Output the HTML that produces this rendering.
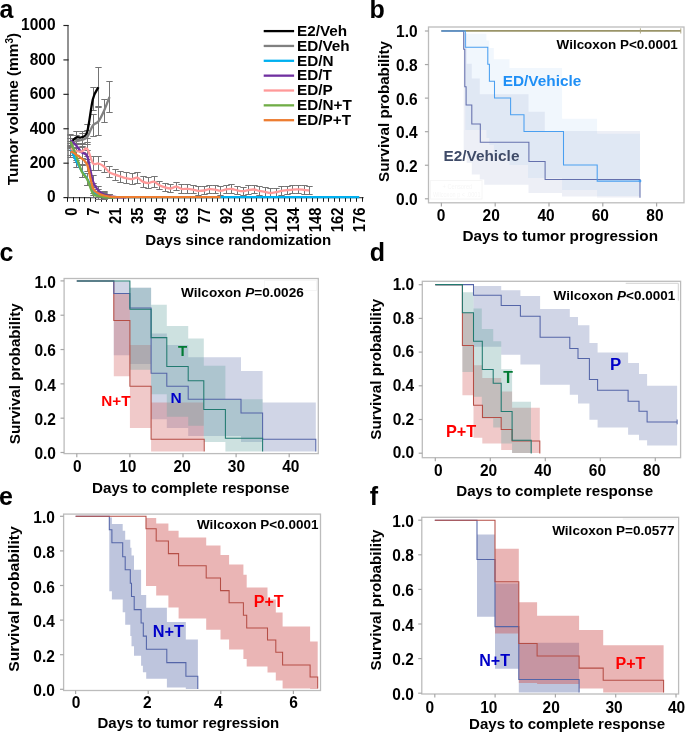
<!DOCTYPE html>
<html><head><meta charset="utf-8"><style>html,body{margin:0;padding:0;background:#fff;overflow:hidden}svg{display:block;will-change:transform}</style></head>
<body><svg width="685" height="734" viewBox="0 0 685 734">
<rect width="685" height="734" fill="#fff"/>
<text x="-0.45" y="17.60" font-family="'Liberation Sans', sans-serif" font-size="25" font-weight="bold" fill="#000" text-anchor="start">a</text>
<line x1="68.00" y1="25.00" x2="68.00" y2="197.60" stroke="#505050" stroke-width="1.25"/>
<line x1="63.40" y1="197.60" x2="68.60" y2="197.60" stroke="#222" stroke-width="1.15"/>
<text x="55.60" y="202.40" font-family="'Liberation Sans', sans-serif" font-size="15.5" font-weight="bold" fill="#000" text-anchor="end" transform="translate(0 202.40) scale(1 1.08) translate(0 -202.40)">0</text>
<line x1="63.40" y1="163.18" x2="68.60" y2="163.18" stroke="#222" stroke-width="1.15"/>
<text x="55.60" y="167.98" font-family="'Liberation Sans', sans-serif" font-size="15.5" font-weight="bold" fill="#000" text-anchor="end" transform="translate(0 167.98) scale(1 1.08) translate(0 -167.98)">200</text>
<line x1="63.40" y1="128.76" x2="68.60" y2="128.76" stroke="#222" stroke-width="1.15"/>
<text x="55.60" y="133.56" font-family="'Liberation Sans', sans-serif" font-size="15.5" font-weight="bold" fill="#000" text-anchor="end" transform="translate(0 133.56) scale(1 1.08) translate(0 -133.56)">400</text>
<line x1="63.40" y1="94.34" x2="68.60" y2="94.34" stroke="#222" stroke-width="1.15"/>
<text x="55.60" y="99.14" font-family="'Liberation Sans', sans-serif" font-size="15.5" font-weight="bold" fill="#000" text-anchor="end" transform="translate(0 99.14) scale(1 1.08) translate(0 -99.14)">600</text>
<line x1="63.40" y1="59.92" x2="68.60" y2="59.92" stroke="#222" stroke-width="1.15"/>
<text x="55.60" y="64.72" font-family="'Liberation Sans', sans-serif" font-size="15.5" font-weight="bold" fill="#000" text-anchor="end" transform="translate(0 64.72) scale(1 1.08) translate(0 -64.72)">800</text>
<line x1="63.40" y1="25.50" x2="68.60" y2="25.50" stroke="#222" stroke-width="1.15"/>
<text x="55.60" y="30.30" font-family="'Liberation Sans', sans-serif" font-size="15.5" font-weight="bold" fill="#000" text-anchor="end" transform="translate(0 30.30) scale(1 1.08) translate(0 -30.30)">1000</text>
<line x1="67.30" y1="197.60" x2="363.60" y2="197.60" stroke="#505050" stroke-width="1.25"/>
<line x1="67.50" y1="197.00" x2="67.50" y2="201.80" stroke="#1a1a1a" stroke-width="1.0"/>
<line x1="73.50" y1="197.00" x2="73.50" y2="201.80" stroke="#1a1a1a" stroke-width="1.0"/>
<line x1="79.50" y1="197.00" x2="79.50" y2="201.80" stroke="#1a1a1a" stroke-width="1.0"/>
<line x1="84.50" y1="197.00" x2="84.50" y2="201.80" stroke="#1a1a1a" stroke-width="1.0"/>
<line x1="90.50" y1="197.00" x2="90.50" y2="201.80" stroke="#1a1a1a" stroke-width="1.0"/>
<line x1="95.50" y1="197.00" x2="95.50" y2="201.80" stroke="#1a1a1a" stroke-width="1.0"/>
<line x1="101.50" y1="197.00" x2="101.50" y2="201.80" stroke="#1a1a1a" stroke-width="1.0"/>
<line x1="106.50" y1="197.00" x2="106.50" y2="201.80" stroke="#1a1a1a" stroke-width="1.0"/>
<line x1="112.50" y1="197.00" x2="112.50" y2="201.80" stroke="#1a1a1a" stroke-width="1.0"/>
<line x1="117.50" y1="197.00" x2="117.50" y2="201.80" stroke="#1a1a1a" stroke-width="1.0"/>
<line x1="123.50" y1="197.00" x2="123.50" y2="201.80" stroke="#1a1a1a" stroke-width="1.0"/>
<line x1="128.50" y1="197.00" x2="128.50" y2="201.80" stroke="#1a1a1a" stroke-width="1.0"/>
<line x1="134.50" y1="197.00" x2="134.50" y2="201.80" stroke="#1a1a1a" stroke-width="1.0"/>
<line x1="140.50" y1="197.00" x2="140.50" y2="201.80" stroke="#1a1a1a" stroke-width="1.0"/>
<line x1="145.50" y1="197.00" x2="145.50" y2="201.80" stroke="#1a1a1a" stroke-width="1.0"/>
<line x1="151.50" y1="197.00" x2="151.50" y2="201.80" stroke="#1a1a1a" stroke-width="1.0"/>
<line x1="156.50" y1="197.00" x2="156.50" y2="201.80" stroke="#1a1a1a" stroke-width="1.0"/>
<line x1="162.50" y1="197.00" x2="162.50" y2="201.80" stroke="#1a1a1a" stroke-width="1.0"/>
<line x1="167.50" y1="197.00" x2="167.50" y2="201.80" stroke="#1a1a1a" stroke-width="1.0"/>
<line x1="173.50" y1="197.00" x2="173.50" y2="201.80" stroke="#1a1a1a" stroke-width="1.0"/>
<line x1="178.50" y1="197.00" x2="178.50" y2="201.80" stroke="#1a1a1a" stroke-width="1.0"/>
<line x1="184.50" y1="197.00" x2="184.50" y2="201.80" stroke="#1a1a1a" stroke-width="1.0"/>
<line x1="190.50" y1="197.00" x2="190.50" y2="201.80" stroke="#1a1a1a" stroke-width="1.0"/>
<line x1="195.50" y1="197.00" x2="195.50" y2="201.80" stroke="#1a1a1a" stroke-width="1.0"/>
<line x1="201.50" y1="197.00" x2="201.50" y2="201.80" stroke="#1a1a1a" stroke-width="1.0"/>
<line x1="206.50" y1="197.00" x2="206.50" y2="201.80" stroke="#1a1a1a" stroke-width="1.0"/>
<line x1="212.50" y1="197.00" x2="212.50" y2="201.80" stroke="#1a1a1a" stroke-width="1.0"/>
<line x1="217.50" y1="197.00" x2="217.50" y2="201.80" stroke="#1a1a1a" stroke-width="1.0"/>
<line x1="223.50" y1="197.00" x2="223.50" y2="201.80" stroke="#1a1a1a" stroke-width="1.0"/>
<line x1="228.50" y1="197.00" x2="228.50" y2="201.80" stroke="#1a1a1a" stroke-width="1.0"/>
<line x1="234.50" y1="197.00" x2="234.50" y2="201.80" stroke="#1a1a1a" stroke-width="1.0"/>
<line x1="239.50" y1="197.00" x2="239.50" y2="201.80" stroke="#1a1a1a" stroke-width="1.0"/>
<line x1="245.50" y1="197.00" x2="245.50" y2="201.80" stroke="#1a1a1a" stroke-width="1.0"/>
<line x1="251.50" y1="197.00" x2="251.50" y2="201.80" stroke="#1a1a1a" stroke-width="1.0"/>
<line x1="256.50" y1="197.00" x2="256.50" y2="201.80" stroke="#1a1a1a" stroke-width="1.0"/>
<line x1="262.50" y1="197.00" x2="262.50" y2="201.80" stroke="#1a1a1a" stroke-width="1.0"/>
<line x1="267.50" y1="197.00" x2="267.50" y2="201.80" stroke="#1a1a1a" stroke-width="1.0"/>
<line x1="273.50" y1="197.00" x2="273.50" y2="201.80" stroke="#1a1a1a" stroke-width="1.0"/>
<line x1="278.50" y1="197.00" x2="278.50" y2="201.80" stroke="#1a1a1a" stroke-width="1.0"/>
<line x1="284.50" y1="197.00" x2="284.50" y2="201.80" stroke="#1a1a1a" stroke-width="1.0"/>
<line x1="289.50" y1="197.00" x2="289.50" y2="201.80" stroke="#1a1a1a" stroke-width="1.0"/>
<line x1="295.50" y1="197.00" x2="295.50" y2="201.80" stroke="#1a1a1a" stroke-width="1.0"/>
<line x1="301.50" y1="197.00" x2="301.50" y2="201.80" stroke="#1a1a1a" stroke-width="1.0"/>
<line x1="306.50" y1="197.00" x2="306.50" y2="201.80" stroke="#1a1a1a" stroke-width="1.0"/>
<line x1="312.50" y1="197.00" x2="312.50" y2="201.80" stroke="#1a1a1a" stroke-width="1.0"/>
<line x1="317.50" y1="197.00" x2="317.50" y2="201.80" stroke="#1a1a1a" stroke-width="1.0"/>
<line x1="323.50" y1="197.00" x2="323.50" y2="201.80" stroke="#1a1a1a" stroke-width="1.0"/>
<line x1="328.50" y1="197.00" x2="328.50" y2="201.80" stroke="#1a1a1a" stroke-width="1.0"/>
<line x1="334.50" y1="197.00" x2="334.50" y2="201.80" stroke="#1a1a1a" stroke-width="1.0"/>
<line x1="339.50" y1="197.00" x2="339.50" y2="201.80" stroke="#1a1a1a" stroke-width="1.0"/>
<line x1="345.50" y1="197.00" x2="345.50" y2="201.80" stroke="#1a1a1a" stroke-width="1.0"/>
<line x1="350.50" y1="197.00" x2="350.50" y2="201.80" stroke="#1a1a1a" stroke-width="1.0"/>
<line x1="356.50" y1="197.00" x2="356.50" y2="201.80" stroke="#1a1a1a" stroke-width="1.0"/>
<line x1="362.50" y1="197.00" x2="362.50" y2="201.80" stroke="#1a1a1a" stroke-width="1.0"/>
<text x="76.75" y="207.5" font-family="'Liberation Sans', sans-serif" font-size="14.8" font-weight="bold" fill="#000" text-anchor="end" transform="rotate(-90 76.75 207.5) translate(76.75 207.5) scale(1 1.1) translate(-76.75 -207.5)">0</text>
<text x="98.95" y="207.5" font-family="'Liberation Sans', sans-serif" font-size="14.8" font-weight="bold" fill="#000" text-anchor="end" transform="rotate(-90 98.95 207.5) translate(98.95 207.5) scale(1 1.1) translate(-98.95 -207.5)">7</text>
<text x="121.15" y="207.5" font-family="'Liberation Sans', sans-serif" font-size="14.8" font-weight="bold" fill="#000" text-anchor="end" transform="rotate(-90 121.15 207.5) translate(121.15 207.5) scale(1 1.1) translate(-121.15 -207.5)">21</text>
<text x="143.35" y="207.5" font-family="'Liberation Sans', sans-serif" font-size="14.8" font-weight="bold" fill="#000" text-anchor="end" transform="rotate(-90 143.35 207.5) translate(143.35 207.5) scale(1 1.1) translate(-143.35 -207.5)">35</text>
<text x="165.55" y="207.5" font-family="'Liberation Sans', sans-serif" font-size="14.8" font-weight="bold" fill="#000" text-anchor="end" transform="rotate(-90 165.55 207.5) translate(165.55 207.5) scale(1 1.1) translate(-165.55 -207.5)">49</text>
<text x="187.75" y="207.5" font-family="'Liberation Sans', sans-serif" font-size="14.8" font-weight="bold" fill="#000" text-anchor="end" transform="rotate(-90 187.75 207.5) translate(187.75 207.5) scale(1 1.1) translate(-187.75 -207.5)">63</text>
<text x="209.95" y="207.5" font-family="'Liberation Sans', sans-serif" font-size="14.8" font-weight="bold" fill="#000" text-anchor="end" transform="rotate(-90 209.95 207.5) translate(209.95 207.5) scale(1 1.1) translate(-209.95 -207.5)">77</text>
<text x="232.15" y="207.5" font-family="'Liberation Sans', sans-serif" font-size="14.8" font-weight="bold" fill="#000" text-anchor="end" transform="rotate(-90 232.15 207.5) translate(232.15 207.5) scale(1 1.1) translate(-232.15 -207.5)">92</text>
<text x="254.35" y="207.5" font-family="'Liberation Sans', sans-serif" font-size="14.8" font-weight="bold" fill="#000" text-anchor="end" transform="rotate(-90 254.35 207.5) translate(254.35 207.5) scale(1 1.1) translate(-254.35 -207.5)">106</text>
<text x="276.55" y="207.5" font-family="'Liberation Sans', sans-serif" font-size="14.8" font-weight="bold" fill="#000" text-anchor="end" transform="rotate(-90 276.55 207.5) translate(276.55 207.5) scale(1 1.1) translate(-276.55 -207.5)">120</text>
<text x="298.75" y="207.5" font-family="'Liberation Sans', sans-serif" font-size="14.8" font-weight="bold" fill="#000" text-anchor="end" transform="rotate(-90 298.75 207.5) translate(298.75 207.5) scale(1 1.1) translate(-298.75 -207.5)">134</text>
<text x="320.95" y="207.5" font-family="'Liberation Sans', sans-serif" font-size="14.8" font-weight="bold" fill="#000" text-anchor="end" transform="rotate(-90 320.95 207.5) translate(320.95 207.5) scale(1 1.1) translate(-320.95 -207.5)">148</text>
<text x="343.15" y="207.5" font-family="'Liberation Sans', sans-serif" font-size="14.8" font-weight="bold" fill="#000" text-anchor="end" transform="rotate(-90 343.15 207.5) translate(343.15 207.5) scale(1 1.1) translate(-343.15 -207.5)">162</text>
<text x="365.35" y="207.5" font-family="'Liberation Sans', sans-serif" font-size="14.8" font-weight="bold" fill="#000" text-anchor="end" transform="rotate(-90 365.35 207.5) translate(365.35 207.5) scale(1 1.1) translate(-365.35 -207.5)">176</text>
<text x="145.30" y="245.20" font-family="'Liberation Sans', sans-serif" font-size="15.2" font-weight="bold" fill="#000" text-anchor="start" textLength="186.00" lengthAdjust="spacingAndGlyphs">Days since randomization</text>
<text x="18.3" y="109" font-family="'Liberation Sans', sans-serif" font-size="15.4" font-weight="bold" text-anchor="middle" transform="rotate(-90 18.3 109)">Tumor volume (mm<tspan dy="-5" font-size="10">3</tspan><tspan dy="5">)</tspan></text>
<line x1="70.50" y1="138.50" x2="70.50" y2="148.50" stroke="#747474" stroke-width="1.0"/>
<line x1="67.30" y1="138.50" x2="73.70" y2="138.50" stroke="#747474" stroke-width="1.0"/>
<line x1="67.30" y1="148.50" x2="73.70" y2="148.50" stroke="#747474" stroke-width="1.0"/>
<line x1="76.50" y1="131.50" x2="76.50" y2="143.50" stroke="#747474" stroke-width="1.0"/>
<line x1="73.30" y1="131.50" x2="79.70" y2="131.50" stroke="#747474" stroke-width="1.0"/>
<line x1="73.30" y1="143.50" x2="79.70" y2="143.50" stroke="#747474" stroke-width="1.0"/>
<line x1="82.50" y1="131.50" x2="82.50" y2="143.50" stroke="#747474" stroke-width="1.0"/>
<line x1="79.30" y1="131.50" x2="85.70" y2="131.50" stroke="#747474" stroke-width="1.0"/>
<line x1="79.30" y1="143.50" x2="85.70" y2="143.50" stroke="#747474" stroke-width="1.0"/>
<line x1="87.50" y1="124.50" x2="87.50" y2="138.50" stroke="#747474" stroke-width="1.0"/>
<line x1="84.30" y1="124.50" x2="90.70" y2="124.50" stroke="#747474" stroke-width="1.0"/>
<line x1="84.30" y1="138.50" x2="90.70" y2="138.50" stroke="#747474" stroke-width="1.0"/>
<line x1="93.50" y1="87.50" x2="93.50" y2="110.50" stroke="#747474" stroke-width="1.0"/>
<line x1="90.30" y1="87.50" x2="96.70" y2="87.50" stroke="#747474" stroke-width="1.0"/>
<line x1="90.30" y1="110.50" x2="96.70" y2="110.50" stroke="#747474" stroke-width="1.0"/>
<line x1="98.50" y1="67.50" x2="98.50" y2="106.50" stroke="#747474" stroke-width="1.0"/>
<line x1="95.30" y1="67.50" x2="101.70" y2="67.50" stroke="#747474" stroke-width="1.0"/>
<line x1="95.30" y1="106.50" x2="101.70" y2="106.50" stroke="#747474" stroke-width="1.0"/>
<line x1="70.50" y1="138.50" x2="70.50" y2="150.50" stroke="#747474" stroke-width="1.0"/>
<line x1="67.30" y1="138.50" x2="73.70" y2="138.50" stroke="#747474" stroke-width="1.0"/>
<line x1="67.30" y1="150.50" x2="73.70" y2="150.50" stroke="#747474" stroke-width="1.0"/>
<line x1="76.50" y1="135.50" x2="76.50" y2="147.50" stroke="#747474" stroke-width="1.0"/>
<line x1="73.30" y1="135.50" x2="79.70" y2="135.50" stroke="#747474" stroke-width="1.0"/>
<line x1="73.30" y1="147.50" x2="79.70" y2="147.50" stroke="#747474" stroke-width="1.0"/>
<line x1="82.50" y1="133.50" x2="82.50" y2="147.50" stroke="#747474" stroke-width="1.0"/>
<line x1="79.30" y1="133.50" x2="85.70" y2="133.50" stroke="#747474" stroke-width="1.0"/>
<line x1="79.30" y1="147.50" x2="85.70" y2="147.50" stroke="#747474" stroke-width="1.0"/>
<line x1="87.50" y1="130.50" x2="87.50" y2="144.50" stroke="#747474" stroke-width="1.0"/>
<line x1="84.30" y1="130.50" x2="90.70" y2="130.50" stroke="#747474" stroke-width="1.0"/>
<line x1="84.30" y1="144.50" x2="90.70" y2="144.50" stroke="#747474" stroke-width="1.0"/>
<line x1="93.50" y1="114.50" x2="93.50" y2="136.50" stroke="#747474" stroke-width="1.0"/>
<line x1="90.30" y1="114.50" x2="96.70" y2="114.50" stroke="#747474" stroke-width="1.0"/>
<line x1="90.30" y1="136.50" x2="96.70" y2="136.50" stroke="#747474" stroke-width="1.0"/>
<line x1="98.50" y1="107.50" x2="98.50" y2="135.50" stroke="#747474" stroke-width="1.0"/>
<line x1="95.30" y1="107.50" x2="101.70" y2="107.50" stroke="#747474" stroke-width="1.0"/>
<line x1="95.30" y1="135.50" x2="101.70" y2="135.50" stroke="#747474" stroke-width="1.0"/>
<line x1="104.50" y1="99.50" x2="104.50" y2="122.50" stroke="#747474" stroke-width="1.0"/>
<line x1="101.30" y1="99.50" x2="107.70" y2="99.50" stroke="#747474" stroke-width="1.0"/>
<line x1="101.30" y1="122.50" x2="107.70" y2="122.50" stroke="#747474" stroke-width="1.0"/>
<line x1="109.50" y1="81.50" x2="109.50" y2="112.50" stroke="#747474" stroke-width="1.0"/>
<line x1="106.30" y1="81.50" x2="112.70" y2="81.50" stroke="#747474" stroke-width="1.0"/>
<line x1="106.30" y1="112.50" x2="112.70" y2="112.50" stroke="#747474" stroke-width="1.0"/>
<line x1="70.50" y1="141.50" x2="70.50" y2="155.50" stroke="#747474" stroke-width="1.0"/>
<line x1="67.30" y1="141.50" x2="73.70" y2="141.50" stroke="#747474" stroke-width="1.0"/>
<line x1="67.30" y1="155.50" x2="73.70" y2="155.50" stroke="#747474" stroke-width="1.0"/>
<line x1="76.50" y1="144.50" x2="76.50" y2="158.50" stroke="#747474" stroke-width="1.0"/>
<line x1="73.30" y1="144.50" x2="79.70" y2="144.50" stroke="#747474" stroke-width="1.0"/>
<line x1="73.30" y1="158.50" x2="79.70" y2="158.50" stroke="#747474" stroke-width="1.0"/>
<line x1="82.50" y1="144.50" x2="82.50" y2="158.50" stroke="#747474" stroke-width="1.0"/>
<line x1="79.30" y1="144.50" x2="85.70" y2="144.50" stroke="#747474" stroke-width="1.0"/>
<line x1="79.30" y1="158.50" x2="85.70" y2="158.50" stroke="#747474" stroke-width="1.0"/>
<line x1="87.50" y1="142.50" x2="87.50" y2="156.50" stroke="#747474" stroke-width="1.0"/>
<line x1="84.30" y1="142.50" x2="90.70" y2="142.50" stroke="#747474" stroke-width="1.0"/>
<line x1="84.30" y1="156.50" x2="90.70" y2="156.50" stroke="#747474" stroke-width="1.0"/>
<line x1="93.50" y1="156.50" x2="93.50" y2="170.50" stroke="#747474" stroke-width="1.0"/>
<line x1="90.30" y1="156.50" x2="96.70" y2="156.50" stroke="#747474" stroke-width="1.0"/>
<line x1="90.30" y1="170.50" x2="96.70" y2="170.50" stroke="#747474" stroke-width="1.0"/>
<line x1="98.50" y1="156.50" x2="98.50" y2="170.50" stroke="#747474" stroke-width="1.0"/>
<line x1="95.30" y1="156.50" x2="101.70" y2="156.50" stroke="#747474" stroke-width="1.0"/>
<line x1="95.30" y1="170.50" x2="101.70" y2="170.50" stroke="#747474" stroke-width="1.0"/>
<line x1="104.50" y1="161.50" x2="104.50" y2="172.50" stroke="#747474" stroke-width="1.0"/>
<line x1="101.30" y1="161.50" x2="107.70" y2="161.50" stroke="#747474" stroke-width="1.0"/>
<line x1="101.30" y1="172.50" x2="107.70" y2="172.50" stroke="#747474" stroke-width="1.0"/>
<line x1="109.50" y1="166.50" x2="109.50" y2="177.50" stroke="#747474" stroke-width="1.0"/>
<line x1="106.30" y1="166.50" x2="112.70" y2="166.50" stroke="#747474" stroke-width="1.0"/>
<line x1="106.30" y1="177.50" x2="112.70" y2="177.50" stroke="#747474" stroke-width="1.0"/>
<line x1="115.50" y1="169.50" x2="115.50" y2="180.50" stroke="#747474" stroke-width="1.0"/>
<line x1="112.30" y1="169.50" x2="118.70" y2="169.50" stroke="#747474" stroke-width="1.0"/>
<line x1="112.30" y1="180.50" x2="118.70" y2="180.50" stroke="#747474" stroke-width="1.0"/>
<line x1="120.50" y1="171.50" x2="120.50" y2="182.50" stroke="#747474" stroke-width="1.0"/>
<line x1="117.30" y1="171.50" x2="123.70" y2="171.50" stroke="#747474" stroke-width="1.0"/>
<line x1="117.30" y1="182.50" x2="123.70" y2="182.50" stroke="#747474" stroke-width="1.0"/>
<line x1="126.50" y1="172.50" x2="126.50" y2="183.50" stroke="#747474" stroke-width="1.0"/>
<line x1="123.30" y1="172.50" x2="129.70" y2="172.50" stroke="#747474" stroke-width="1.0"/>
<line x1="123.30" y1="183.50" x2="129.70" y2="183.50" stroke="#747474" stroke-width="1.0"/>
<line x1="132.50" y1="173.50" x2="132.50" y2="184.50" stroke="#747474" stroke-width="1.0"/>
<line x1="129.30" y1="173.50" x2="135.70" y2="173.50" stroke="#747474" stroke-width="1.0"/>
<line x1="129.30" y1="184.50" x2="135.70" y2="184.50" stroke="#747474" stroke-width="1.0"/>
<line x1="137.50" y1="172.50" x2="137.50" y2="183.50" stroke="#747474" stroke-width="1.0"/>
<line x1="134.30" y1="172.50" x2="140.70" y2="172.50" stroke="#747474" stroke-width="1.0"/>
<line x1="134.30" y1="183.50" x2="140.70" y2="183.50" stroke="#747474" stroke-width="1.0"/>
<line x1="143.50" y1="176.50" x2="143.50" y2="187.50" stroke="#747474" stroke-width="1.0"/>
<line x1="140.30" y1="176.50" x2="146.70" y2="176.50" stroke="#747474" stroke-width="1.0"/>
<line x1="140.30" y1="187.50" x2="146.70" y2="187.50" stroke="#747474" stroke-width="1.0"/>
<line x1="148.50" y1="177.50" x2="148.50" y2="188.50" stroke="#747474" stroke-width="1.0"/>
<line x1="145.30" y1="177.50" x2="151.70" y2="177.50" stroke="#747474" stroke-width="1.0"/>
<line x1="145.30" y1="188.50" x2="151.70" y2="188.50" stroke="#747474" stroke-width="1.0"/>
<line x1="154.50" y1="176.50" x2="154.50" y2="187.50" stroke="#747474" stroke-width="1.0"/>
<line x1="151.30" y1="176.50" x2="157.70" y2="176.50" stroke="#747474" stroke-width="1.0"/>
<line x1="151.30" y1="187.50" x2="157.70" y2="187.50" stroke="#747474" stroke-width="1.0"/>
<line x1="159.50" y1="181.50" x2="159.50" y2="189.50" stroke="#747474" stroke-width="1.0"/>
<line x1="156.30" y1="181.50" x2="162.70" y2="181.50" stroke="#747474" stroke-width="1.0"/>
<line x1="156.30" y1="189.50" x2="162.70" y2="189.50" stroke="#747474" stroke-width="1.0"/>
<line x1="165.50" y1="183.50" x2="165.50" y2="191.50" stroke="#747474" stroke-width="1.0"/>
<line x1="162.30" y1="183.50" x2="168.70" y2="183.50" stroke="#747474" stroke-width="1.0"/>
<line x1="162.30" y1="191.50" x2="168.70" y2="191.50" stroke="#747474" stroke-width="1.0"/>
<line x1="170.50" y1="184.50" x2="170.50" y2="192.50" stroke="#747474" stroke-width="1.0"/>
<line x1="167.30" y1="184.50" x2="173.70" y2="184.50" stroke="#747474" stroke-width="1.0"/>
<line x1="167.30" y1="192.50" x2="173.70" y2="192.50" stroke="#747474" stroke-width="1.0"/>
<line x1="176.50" y1="182.50" x2="176.50" y2="190.50" stroke="#747474" stroke-width="1.0"/>
<line x1="173.30" y1="182.50" x2="179.70" y2="182.50" stroke="#747474" stroke-width="1.0"/>
<line x1="173.30" y1="190.50" x2="179.70" y2="190.50" stroke="#747474" stroke-width="1.0"/>
<line x1="181.50" y1="184.50" x2="181.50" y2="193.50" stroke="#747474" stroke-width="1.0"/>
<line x1="178.30" y1="184.50" x2="184.70" y2="184.50" stroke="#747474" stroke-width="1.0"/>
<line x1="178.30" y1="193.50" x2="184.70" y2="193.50" stroke="#747474" stroke-width="1.0"/>
<line x1="187.50" y1="184.50" x2="187.50" y2="193.50" stroke="#747474" stroke-width="1.0"/>
<line x1="184.30" y1="184.50" x2="190.70" y2="184.50" stroke="#747474" stroke-width="1.0"/>
<line x1="184.30" y1="193.50" x2="190.70" y2="193.50" stroke="#747474" stroke-width="1.0"/>
<line x1="193.50" y1="185.50" x2="193.50" y2="193.50" stroke="#747474" stroke-width="1.0"/>
<line x1="190.30" y1="185.50" x2="196.70" y2="185.50" stroke="#747474" stroke-width="1.0"/>
<line x1="190.30" y1="193.50" x2="196.70" y2="193.50" stroke="#747474" stroke-width="1.0"/>
<line x1="198.50" y1="186.50" x2="198.50" y2="195.50" stroke="#747474" stroke-width="1.0"/>
<line x1="195.30" y1="186.50" x2="201.70" y2="186.50" stroke="#747474" stroke-width="1.0"/>
<line x1="195.30" y1="195.50" x2="201.70" y2="195.50" stroke="#747474" stroke-width="1.0"/>
<line x1="204.50" y1="186.50" x2="204.50" y2="194.50" stroke="#747474" stroke-width="1.0"/>
<line x1="201.30" y1="186.50" x2="207.70" y2="186.50" stroke="#747474" stroke-width="1.0"/>
<line x1="201.30" y1="194.50" x2="207.70" y2="194.50" stroke="#747474" stroke-width="1.0"/>
<line x1="209.50" y1="185.50" x2="209.50" y2="193.50" stroke="#747474" stroke-width="1.0"/>
<line x1="206.30" y1="185.50" x2="212.70" y2="185.50" stroke="#747474" stroke-width="1.0"/>
<line x1="206.30" y1="193.50" x2="212.70" y2="193.50" stroke="#747474" stroke-width="1.0"/>
<line x1="215.50" y1="185.50" x2="215.50" y2="193.50" stroke="#747474" stroke-width="1.0"/>
<line x1="212.30" y1="185.50" x2="218.70" y2="185.50" stroke="#747474" stroke-width="1.0"/>
<line x1="212.30" y1="193.50" x2="218.70" y2="193.50" stroke="#747474" stroke-width="1.0"/>
<line x1="220.50" y1="186.50" x2="220.50" y2="195.50" stroke="#747474" stroke-width="1.0"/>
<line x1="217.30" y1="186.50" x2="223.70" y2="186.50" stroke="#747474" stroke-width="1.0"/>
<line x1="217.30" y1="195.50" x2="223.70" y2="195.50" stroke="#747474" stroke-width="1.0"/>
<line x1="226.50" y1="185.50" x2="226.50" y2="193.50" stroke="#747474" stroke-width="1.0"/>
<line x1="223.30" y1="185.50" x2="229.70" y2="185.50" stroke="#747474" stroke-width="1.0"/>
<line x1="223.30" y1="193.50" x2="229.70" y2="193.50" stroke="#747474" stroke-width="1.0"/>
<line x1="231.50" y1="184.50" x2="231.50" y2="193.50" stroke="#747474" stroke-width="1.0"/>
<line x1="228.30" y1="184.50" x2="234.70" y2="184.50" stroke="#747474" stroke-width="1.0"/>
<line x1="228.30" y1="193.50" x2="234.70" y2="193.50" stroke="#747474" stroke-width="1.0"/>
<line x1="237.50" y1="186.50" x2="237.50" y2="194.50" stroke="#747474" stroke-width="1.0"/>
<line x1="234.30" y1="186.50" x2="240.70" y2="186.50" stroke="#747474" stroke-width="1.0"/>
<line x1="234.30" y1="194.50" x2="240.70" y2="194.50" stroke="#747474" stroke-width="1.0"/>
<line x1="243.50" y1="187.50" x2="243.50" y2="195.50" stroke="#747474" stroke-width="1.0"/>
<line x1="240.30" y1="187.50" x2="246.70" y2="187.50" stroke="#747474" stroke-width="1.0"/>
<line x1="240.30" y1="195.50" x2="246.70" y2="195.50" stroke="#747474" stroke-width="1.0"/>
<line x1="248.50" y1="185.50" x2="248.50" y2="194.50" stroke="#747474" stroke-width="1.0"/>
<line x1="245.30" y1="185.50" x2="251.70" y2="185.50" stroke="#747474" stroke-width="1.0"/>
<line x1="245.30" y1="194.50" x2="251.70" y2="194.50" stroke="#747474" stroke-width="1.0"/>
<line x1="254.50" y1="185.50" x2="254.50" y2="193.50" stroke="#747474" stroke-width="1.0"/>
<line x1="251.30" y1="185.50" x2="257.70" y2="185.50" stroke="#747474" stroke-width="1.0"/>
<line x1="251.30" y1="193.50" x2="257.70" y2="193.50" stroke="#747474" stroke-width="1.0"/>
<line x1="259.50" y1="186.50" x2="259.50" y2="195.50" stroke="#747474" stroke-width="1.0"/>
<line x1="256.30" y1="186.50" x2="262.70" y2="186.50" stroke="#747474" stroke-width="1.0"/>
<line x1="256.30" y1="195.50" x2="262.70" y2="195.50" stroke="#747474" stroke-width="1.0"/>
<line x1="265.50" y1="187.50" x2="265.50" y2="196.50" stroke="#747474" stroke-width="1.0"/>
<line x1="262.30" y1="187.50" x2="268.70" y2="187.50" stroke="#747474" stroke-width="1.0"/>
<line x1="262.30" y1="196.50" x2="268.70" y2="196.50" stroke="#747474" stroke-width="1.0"/>
<line x1="270.50" y1="188.50" x2="270.50" y2="197.50" stroke="#747474" stroke-width="1.0"/>
<line x1="267.30" y1="188.50" x2="273.70" y2="188.50" stroke="#747474" stroke-width="1.0"/>
<line x1="267.30" y1="197.50" x2="273.70" y2="197.50" stroke="#747474" stroke-width="1.0"/>
<line x1="276.50" y1="188.50" x2="276.50" y2="196.50" stroke="#747474" stroke-width="1.0"/>
<line x1="273.30" y1="188.50" x2="279.70" y2="188.50" stroke="#747474" stroke-width="1.0"/>
<line x1="273.30" y1="196.50" x2="279.70" y2="196.50" stroke="#747474" stroke-width="1.0"/>
<line x1="281.50" y1="186.50" x2="281.50" y2="195.50" stroke="#747474" stroke-width="1.0"/>
<line x1="278.30" y1="186.50" x2="284.70" y2="186.50" stroke="#747474" stroke-width="1.0"/>
<line x1="278.30" y1="195.50" x2="284.70" y2="195.50" stroke="#747474" stroke-width="1.0"/>
<line x1="287.50" y1="186.50" x2="287.50" y2="194.50" stroke="#747474" stroke-width="1.0"/>
<line x1="284.30" y1="186.50" x2="290.70" y2="186.50" stroke="#747474" stroke-width="1.0"/>
<line x1="284.30" y1="194.50" x2="290.70" y2="194.50" stroke="#747474" stroke-width="1.0"/>
<line x1="292.50" y1="185.50" x2="292.50" y2="193.50" stroke="#747474" stroke-width="1.0"/>
<line x1="289.30" y1="185.50" x2="295.70" y2="185.50" stroke="#747474" stroke-width="1.0"/>
<line x1="289.30" y1="193.50" x2="295.70" y2="193.50" stroke="#747474" stroke-width="1.0"/>
<line x1="298.50" y1="185.50" x2="298.50" y2="193.50" stroke="#747474" stroke-width="1.0"/>
<line x1="295.30" y1="185.50" x2="301.70" y2="185.50" stroke="#747474" stroke-width="1.0"/>
<line x1="295.30" y1="193.50" x2="301.70" y2="193.50" stroke="#747474" stroke-width="1.0"/>
<line x1="304.50" y1="185.50" x2="304.50" y2="194.50" stroke="#747474" stroke-width="1.0"/>
<line x1="301.30" y1="185.50" x2="307.70" y2="185.50" stroke="#747474" stroke-width="1.0"/>
<line x1="301.30" y1="194.50" x2="307.70" y2="194.50" stroke="#747474" stroke-width="1.0"/>
<line x1="309.50" y1="186.50" x2="309.50" y2="194.50" stroke="#747474" stroke-width="1.0"/>
<line x1="306.30" y1="186.50" x2="312.70" y2="186.50" stroke="#747474" stroke-width="1.0"/>
<line x1="306.30" y1="194.50" x2="312.70" y2="194.50" stroke="#747474" stroke-width="1.0"/>
<line x1="70.50" y1="134.50" x2="70.50" y2="146.50" stroke="#747474" stroke-width="1.0"/>
<line x1="67.30" y1="134.50" x2="73.70" y2="134.50" stroke="#747474" stroke-width="1.0"/>
<line x1="67.30" y1="146.50" x2="73.70" y2="146.50" stroke="#747474" stroke-width="1.0"/>
<line x1="76.50" y1="139.50" x2="76.50" y2="151.50" stroke="#747474" stroke-width="1.0"/>
<line x1="73.30" y1="139.50" x2="79.70" y2="139.50" stroke="#747474" stroke-width="1.0"/>
<line x1="73.30" y1="151.50" x2="79.70" y2="151.50" stroke="#747474" stroke-width="1.0"/>
<line x1="82.50" y1="146.50" x2="82.50" y2="158.50" stroke="#747474" stroke-width="1.0"/>
<line x1="79.30" y1="146.50" x2="85.70" y2="146.50" stroke="#747474" stroke-width="1.0"/>
<line x1="79.30" y1="158.50" x2="85.70" y2="158.50" stroke="#747474" stroke-width="1.0"/>
<line x1="87.50" y1="150.50" x2="87.50" y2="162.50" stroke="#747474" stroke-width="1.0"/>
<line x1="84.30" y1="150.50" x2="90.70" y2="150.50" stroke="#747474" stroke-width="1.0"/>
<line x1="84.30" y1="162.50" x2="90.70" y2="162.50" stroke="#747474" stroke-width="1.0"/>
<line x1="93.50" y1="175.50" x2="93.50" y2="187.50" stroke="#747474" stroke-width="1.0"/>
<line x1="90.30" y1="175.50" x2="96.70" y2="175.50" stroke="#747474" stroke-width="1.0"/>
<line x1="90.30" y1="187.50" x2="96.70" y2="187.50" stroke="#747474" stroke-width="1.0"/>
<line x1="98.50" y1="186.50" x2="98.50" y2="194.50" stroke="#747474" stroke-width="1.0"/>
<line x1="95.30" y1="186.50" x2="101.70" y2="186.50" stroke="#747474" stroke-width="1.0"/>
<line x1="95.30" y1="194.50" x2="101.70" y2="194.50" stroke="#747474" stroke-width="1.0"/>
<line x1="104.50" y1="191.50" x2="104.50" y2="197.50" stroke="#747474" stroke-width="1.0"/>
<line x1="101.30" y1="191.50" x2="107.70" y2="191.50" stroke="#747474" stroke-width="1.0"/>
<line x1="101.30" y1="197.50" x2="107.70" y2="197.50" stroke="#747474" stroke-width="1.0"/>
<line x1="109.50" y1="194.50" x2="109.50" y2="198.50" stroke="#747474" stroke-width="1.0"/>
<line x1="106.30" y1="194.50" x2="112.70" y2="194.50" stroke="#747474" stroke-width="1.0"/>
<line x1="106.30" y1="198.50" x2="112.70" y2="198.50" stroke="#747474" stroke-width="1.0"/>
<line x1="70.50" y1="135.50" x2="70.50" y2="147.50" stroke="#747474" stroke-width="1.0"/>
<line x1="67.30" y1="135.50" x2="73.70" y2="135.50" stroke="#747474" stroke-width="1.0"/>
<line x1="67.30" y1="147.50" x2="73.70" y2="147.50" stroke="#747474" stroke-width="1.0"/>
<line x1="76.50" y1="150.50" x2="76.50" y2="162.50" stroke="#747474" stroke-width="1.0"/>
<line x1="73.30" y1="150.50" x2="79.70" y2="150.50" stroke="#747474" stroke-width="1.0"/>
<line x1="73.30" y1="162.50" x2="79.70" y2="162.50" stroke="#747474" stroke-width="1.0"/>
<line x1="82.50" y1="165.50" x2="82.50" y2="177.50" stroke="#747474" stroke-width="1.0"/>
<line x1="79.30" y1="165.50" x2="85.70" y2="165.50" stroke="#747474" stroke-width="1.0"/>
<line x1="79.30" y1="177.50" x2="85.70" y2="177.50" stroke="#747474" stroke-width="1.0"/>
<line x1="87.50" y1="173.50" x2="87.50" y2="185.50" stroke="#747474" stroke-width="1.0"/>
<line x1="84.30" y1="173.50" x2="90.70" y2="173.50" stroke="#747474" stroke-width="1.0"/>
<line x1="84.30" y1="185.50" x2="90.70" y2="185.50" stroke="#747474" stroke-width="1.0"/>
<line x1="93.50" y1="189.50" x2="93.50" y2="197.50" stroke="#747474" stroke-width="1.0"/>
<line x1="90.30" y1="189.50" x2="96.70" y2="189.50" stroke="#747474" stroke-width="1.0"/>
<line x1="90.30" y1="197.50" x2="96.70" y2="197.50" stroke="#747474" stroke-width="1.0"/>
<line x1="98.50" y1="193.50" x2="98.50" y2="199.50" stroke="#747474" stroke-width="1.0"/>
<line x1="95.30" y1="193.50" x2="101.70" y2="193.50" stroke="#747474" stroke-width="1.0"/>
<line x1="95.30" y1="199.50" x2="101.70" y2="199.50" stroke="#747474" stroke-width="1.0"/>
<line x1="104.50" y1="195.50" x2="104.50" y2="199.50" stroke="#747474" stroke-width="1.0"/>
<line x1="101.30" y1="195.50" x2="107.70" y2="195.50" stroke="#747474" stroke-width="1.0"/>
<line x1="101.30" y1="199.50" x2="107.70" y2="199.50" stroke="#747474" stroke-width="1.0"/>
<line x1="70.50" y1="145.50" x2="70.50" y2="157.50" stroke="#747474" stroke-width="1.0"/>
<line x1="67.30" y1="145.50" x2="73.70" y2="145.50" stroke="#747474" stroke-width="1.0"/>
<line x1="67.30" y1="157.50" x2="73.70" y2="157.50" stroke="#747474" stroke-width="1.0"/>
<line x1="76.50" y1="148.50" x2="76.50" y2="160.50" stroke="#747474" stroke-width="1.0"/>
<line x1="73.30" y1="148.50" x2="79.70" y2="148.50" stroke="#747474" stroke-width="1.0"/>
<line x1="73.30" y1="160.50" x2="79.70" y2="160.50" stroke="#747474" stroke-width="1.0"/>
<line x1="82.50" y1="152.50" x2="82.50" y2="164.50" stroke="#747474" stroke-width="1.0"/>
<line x1="79.30" y1="152.50" x2="85.70" y2="152.50" stroke="#747474" stroke-width="1.0"/>
<line x1="79.30" y1="164.50" x2="85.70" y2="164.50" stroke="#747474" stroke-width="1.0"/>
<line x1="87.50" y1="159.50" x2="87.50" y2="171.50" stroke="#747474" stroke-width="1.0"/>
<line x1="84.30" y1="159.50" x2="90.70" y2="159.50" stroke="#747474" stroke-width="1.0"/>
<line x1="84.30" y1="171.50" x2="90.70" y2="171.50" stroke="#747474" stroke-width="1.0"/>
<line x1="93.50" y1="183.50" x2="93.50" y2="193.50" stroke="#747474" stroke-width="1.0"/>
<line x1="90.30" y1="183.50" x2="96.70" y2="183.50" stroke="#747474" stroke-width="1.0"/>
<line x1="90.30" y1="193.50" x2="96.70" y2="193.50" stroke="#747474" stroke-width="1.0"/>
<line x1="98.50" y1="189.50" x2="98.50" y2="197.50" stroke="#747474" stroke-width="1.0"/>
<line x1="95.30" y1="189.50" x2="101.70" y2="189.50" stroke="#747474" stroke-width="1.0"/>
<line x1="95.30" y1="197.50" x2="101.70" y2="197.50" stroke="#747474" stroke-width="1.0"/>
<line x1="104.50" y1="192.50" x2="104.50" y2="198.50" stroke="#747474" stroke-width="1.0"/>
<line x1="101.30" y1="192.50" x2="107.70" y2="192.50" stroke="#747474" stroke-width="1.0"/>
<line x1="101.30" y1="198.50" x2="107.70" y2="198.50" stroke="#747474" stroke-width="1.0"/>
<line x1="109.50" y1="194.50" x2="109.50" y2="198.50" stroke="#747474" stroke-width="1.0"/>
<line x1="106.30" y1="194.50" x2="112.70" y2="194.50" stroke="#747474" stroke-width="1.0"/>
<line x1="106.30" y1="198.50" x2="112.70" y2="198.50" stroke="#747474" stroke-width="1.0"/>
<line x1="70.50" y1="143.50" x2="70.50" y2="155.50" stroke="#747474" stroke-width="1.0"/>
<line x1="67.30" y1="143.50" x2="73.70" y2="143.50" stroke="#747474" stroke-width="1.0"/>
<line x1="67.30" y1="155.50" x2="73.70" y2="155.50" stroke="#747474" stroke-width="1.0"/>
<line x1="76.50" y1="155.50" x2="76.50" y2="167.50" stroke="#747474" stroke-width="1.0"/>
<line x1="73.30" y1="155.50" x2="79.70" y2="155.50" stroke="#747474" stroke-width="1.0"/>
<line x1="73.30" y1="167.50" x2="79.70" y2="167.50" stroke="#747474" stroke-width="1.0"/>
<line x1="82.50" y1="165.50" x2="82.50" y2="177.50" stroke="#747474" stroke-width="1.0"/>
<line x1="79.30" y1="165.50" x2="85.70" y2="165.50" stroke="#747474" stroke-width="1.0"/>
<line x1="79.30" y1="177.50" x2="85.70" y2="177.50" stroke="#747474" stroke-width="1.0"/>
<line x1="87.50" y1="173.50" x2="87.50" y2="185.50" stroke="#747474" stroke-width="1.0"/>
<line x1="84.30" y1="173.50" x2="90.70" y2="173.50" stroke="#747474" stroke-width="1.0"/>
<line x1="84.30" y1="185.50" x2="90.70" y2="185.50" stroke="#747474" stroke-width="1.0"/>
<line x1="93.50" y1="185.50" x2="93.50" y2="195.50" stroke="#747474" stroke-width="1.0"/>
<line x1="90.30" y1="185.50" x2="96.70" y2="185.50" stroke="#747474" stroke-width="1.0"/>
<line x1="90.30" y1="195.50" x2="96.70" y2="195.50" stroke="#747474" stroke-width="1.0"/>
<line x1="98.50" y1="191.50" x2="98.50" y2="199.50" stroke="#747474" stroke-width="1.0"/>
<line x1="95.30" y1="191.50" x2="101.70" y2="191.50" stroke="#747474" stroke-width="1.0"/>
<line x1="95.30" y1="199.50" x2="101.70" y2="199.50" stroke="#747474" stroke-width="1.0"/>
<line x1="104.50" y1="193.50" x2="104.50" y2="199.50" stroke="#747474" stroke-width="1.0"/>
<line x1="101.30" y1="193.50" x2="107.70" y2="193.50" stroke="#747474" stroke-width="1.0"/>
<line x1="101.30" y1="199.50" x2="107.70" y2="199.50" stroke="#747474" stroke-width="1.0"/>
<line x1="109.50" y1="194.50" x2="109.50" y2="198.50" stroke="#747474" stroke-width="1.0"/>
<line x1="106.30" y1="194.50" x2="112.70" y2="194.50" stroke="#747474" stroke-width="1.0"/>
<line x1="106.30" y1="198.50" x2="112.70" y2="198.50" stroke="#747474" stroke-width="1.0"/>
<path d="M70.65,143.00 C71.58,142.08 74.35,138.45 76.20,137.50 C78.05,136.55 79.90,138.30 81.75,137.30 C83.60,136.30 85.45,137.85 87.30,131.50 C89.15,125.15 91.00,106.58 92.85,99.20 C94.70,91.82 97.48,89.20 98.40,87.20" fill="none" stroke="#000000" stroke-width="2.3" stroke-linejoin="round" stroke-linecap="butt"/>
<path d="M70.65,144.00 C71.58,143.50 74.35,141.67 76.20,141.00 C78.05,140.33 79.90,140.67 81.75,140.00 C83.60,139.33 85.45,139.42 87.30,137.00 C89.15,134.58 91.00,128.08 92.85,125.50 C94.70,122.92 96.55,123.92 98.40,121.50 C100.25,119.08 102.10,115.08 103.95,111.00 C105.80,106.92 108.58,99.33 109.50,97.00" fill="none" stroke="#808080" stroke-width="2.3" stroke-linejoin="round" stroke-linecap="butt"/>
<path d="M70.65,149.00 C71.58,151.00 74.35,157.33 76.20,161.00 C78.05,164.67 79.90,168.00 81.75,171.00 C83.60,174.00 85.45,175.83 87.30,179.00 C89.15,182.17 91.00,187.33 92.85,190.00 C94.70,192.67 96.55,193.93 98.40,195.00 C100.25,196.07 102.10,196.08 103.95,196.40 C105.80,196.72 107.65,196.77 109.50,196.90 C111.35,197.03 113.20,197.15 115.05,197.20 C116.90,197.25 118.75,197.20 120.60,197.20 C122.45,197.20 124.30,197.20 126.15,197.20 C128.00,197.20 129.85,197.20 131.70,197.20 C133.55,197.20 135.40,197.20 137.25,197.20 C139.10,197.20 140.95,197.20 142.80,197.20 C144.65,197.20 146.50,197.20 148.35,197.20 C150.20,197.20 152.05,197.20 153.90,197.20 C155.75,197.20 157.60,197.20 159.45,197.20 C161.30,197.20 163.15,197.20 165.00,197.20 C166.85,197.20 168.70,197.20 170.55,197.20 C172.40,197.20 174.25,197.20 176.10,197.20 C177.95,197.20 179.80,197.20 181.65,197.20 C183.50,197.20 185.35,197.20 187.20,197.20 C189.05,197.20 190.90,197.20 192.75,197.20 C194.60,197.20 196.45,197.20 198.30,197.20 C200.15,197.20 202.00,197.20 203.85,197.20 C205.70,197.20 207.55,197.20 209.40,197.20 C211.25,197.20 213.10,197.20 214.95,197.20 C216.80,197.20 218.65,197.20 220.50,197.20 C222.35,197.20 224.20,197.20 226.05,197.20 C227.90,197.20 229.75,197.20 231.60,197.20 C233.45,197.20 235.30,197.20 237.15,197.20 C239.00,197.20 240.85,197.20 242.70,197.20 C244.55,197.20 246.40,197.20 248.25,197.20 C250.10,197.20 251.95,197.20 253.80,197.20 C255.65,197.20 257.50,197.20 259.35,197.20 C261.20,197.20 263.05,197.20 264.90,197.20 C266.75,197.20 268.60,197.20 270.45,197.20 C272.30,197.20 274.15,197.20 276.00,197.20 C277.85,197.20 279.70,197.20 281.55,197.20 C283.40,197.20 285.25,197.20 287.10,197.20 C288.95,197.20 290.80,197.20 292.65,197.20 C294.50,197.20 296.35,197.20 298.20,197.20 C300.05,197.20 301.90,197.20 303.75,197.20 C305.60,197.20 307.45,197.20 309.30,197.20 C311.15,197.20 313.00,197.20 314.85,197.20 C316.70,197.20 318.55,197.20 320.40,197.20 C322.25,197.20 324.10,197.20 325.95,197.20 C327.80,197.20 329.65,197.20 331.50,197.20 C333.35,197.20 335.20,197.20 337.05,197.20 C338.90,197.20 340.75,197.20 342.60,197.20 C344.45,197.20 346.30,197.20 348.15,197.20 C350.00,197.20 351.85,197.20 353.70,197.20 C355.55,197.20 358.32,197.20 359.25,197.20" fill="none" stroke="#00b0f0" stroke-width="2.3" stroke-linejoin="round" stroke-linecap="butt"/>
<path d="M70.65,140.30 C71.58,141.17 74.35,143.47 76.20,145.50 C78.05,147.53 79.90,150.67 81.75,152.50 C83.60,154.33 85.45,151.75 87.30,156.50 C89.15,161.25 91.00,175.35 92.85,181.00 C94.70,186.65 96.55,188.15 98.40,190.40 C100.25,192.65 102.10,193.57 103.95,194.50 C105.80,195.43 107.65,195.58 109.50,196.00 C111.35,196.42 113.20,196.78 115.05,197.00 C116.90,197.22 118.75,197.23 120.60,197.30 C122.45,197.37 125.23,197.38 126.15,197.40" fill="none" stroke="#7030a0" stroke-width="2.3" stroke-linejoin="round" stroke-linecap="butt"/>
<path d="M70.65,148.50 C71.58,148.92 74.35,150.50 76.20,151.00 C78.05,151.50 79.90,151.83 81.75,151.50 C83.60,151.17 85.45,147.05 87.30,149.00 C89.15,150.95 91.00,160.78 92.85,163.20 C94.70,165.62 96.55,162.95 98.40,163.50 C100.25,164.05 102.10,165.02 103.95,166.50 C105.80,167.98 107.65,171.03 109.50,172.40 C111.35,173.77 113.20,174.02 115.05,174.70 C116.90,175.38 118.75,175.92 120.60,176.50 C122.45,177.08 124.30,177.77 126.15,178.20 C128.00,178.63 129.85,179.18 131.70,179.10 C133.55,179.02 135.40,177.28 137.25,177.70 C139.10,178.12 140.95,180.70 142.80,181.60 C144.65,182.50 146.50,183.10 148.35,183.10 C150.20,183.10 152.05,181.23 153.90,181.60 C155.75,181.97 157.60,184.33 159.45,185.30 C161.30,186.27 163.15,186.87 165.00,187.40 C166.85,187.93 168.70,188.62 170.55,188.50 C172.40,188.38 174.25,186.63 176.10,186.70 C177.95,186.77 179.80,188.53 181.65,188.90 C183.50,189.27 185.35,188.78 187.20,188.90 C189.05,189.02 190.90,189.28 192.75,189.60 C194.60,189.92 196.45,190.65 198.30,190.80 C200.15,190.95 202.00,190.77 203.85,190.50 C205.70,190.23 207.55,189.35 209.40,189.20 C211.25,189.05 213.10,189.33 214.95,189.60 C216.80,189.87 218.65,190.83 220.50,190.80 C222.35,190.77 224.20,189.70 226.05,189.40 C227.90,189.10 229.75,188.85 231.60,189.00 C233.45,189.15 235.30,189.93 237.15,190.30 C239.00,190.67 240.85,191.23 242.70,191.20 C244.55,191.17 246.40,190.38 248.25,190.10 C250.10,189.82 251.95,189.37 253.80,189.50 C255.65,189.63 257.50,190.52 259.35,190.90 C261.20,191.28 263.05,191.45 264.90,191.80 C266.75,192.15 268.60,192.93 270.45,193.00 C272.30,193.07 274.15,192.57 276.00,192.20 C277.85,191.83 279.70,191.13 281.55,190.80 C283.40,190.47 285.25,190.40 287.10,190.20 C288.95,190.00 290.80,189.73 292.65,189.60 C294.50,189.47 296.35,189.37 298.20,189.40 C300.05,189.43 301.90,189.63 303.75,189.80 C305.60,189.97 308.38,190.30 309.30,190.40" fill="none" stroke="#ff9999" stroke-width="2.3" stroke-linejoin="round" stroke-linecap="butt"/>
<path d="M70.65,141.50 C71.58,143.92 74.35,151.00 76.20,156.00 C78.05,161.00 79.90,167.58 81.75,171.50 C83.60,175.42 85.45,175.83 87.30,179.50 C89.15,183.17 91.00,190.75 92.85,193.50 C94.70,196.25 96.55,195.42 98.40,196.00 C100.25,196.58 102.10,196.77 103.95,197.00 C105.80,197.23 107.65,197.32 109.50,197.40 C111.35,197.48 114.13,197.48 115.05,197.50" fill="none" stroke="#70ad47" stroke-width="2.3" stroke-linejoin="round" stroke-linecap="butt"/>
<path d="M70.65,151.20 C71.58,151.77 74.35,153.38 76.20,154.60 C78.05,155.82 79.90,156.77 81.75,158.50 C83.60,160.23 85.45,160.08 87.30,165.00 C89.15,169.92 91.00,183.25 92.85,188.00 C94.70,192.75 96.55,192.25 98.40,193.50 C100.25,194.75 102.10,194.98 103.95,195.50 C105.80,196.02 107.65,196.33 109.50,196.60 C111.35,196.87 113.20,197.02 115.05,197.10 C116.90,197.18 118.75,197.10 120.60,197.10 C122.45,197.10 124.30,197.10 126.15,197.10 C128.00,197.10 129.85,197.10 131.70,197.10 C133.55,197.10 135.40,197.10 137.25,197.10 C139.10,197.10 140.95,197.10 142.80,197.10 C144.65,197.10 146.50,197.10 148.35,197.10 C150.20,197.10 152.05,197.10 153.90,197.10 C155.75,197.10 157.60,197.10 159.45,197.10 C161.30,197.10 163.15,197.10 165.00,197.10 C166.85,197.10 168.70,197.10 170.55,197.10 C172.40,197.10 174.25,197.10 176.10,197.10 C177.95,197.10 179.80,197.10 181.65,197.10 C183.50,197.10 185.35,197.10 187.20,197.10 C189.05,197.10 190.90,197.10 192.75,197.10 C194.60,197.10 196.45,197.10 198.30,197.10 C200.15,197.10 202.00,197.10 203.85,197.10 C205.70,197.10 207.55,197.10 209.40,197.10 C211.25,197.10 213.10,197.10 214.95,197.10 C216.80,197.10 219.57,197.10 220.50,197.10" fill="none" stroke="#ed7d31" stroke-width="2.3" stroke-linejoin="round" stroke-linecap="butt"/>
<line x1="263.70" y1="31.10" x2="294.10" y2="31.10" stroke="#000000" stroke-width="2.3"/>
<text x="297.00" y="35.80" font-family="'Liberation Sans', sans-serif" font-size="15.3" font-weight="bold" fill="#000" text-anchor="start">E2/Veh</text>
<line x1="263.70" y1="45.95" x2="294.10" y2="45.95" stroke="#808080" stroke-width="2.3"/>
<text x="297.00" y="50.65" font-family="'Liberation Sans', sans-serif" font-size="15.3" font-weight="bold" fill="#000" text-anchor="start">ED/Veh</text>
<line x1="263.70" y1="60.80" x2="294.10" y2="60.80" stroke="#00b0f0" stroke-width="2.3"/>
<text x="297.00" y="65.50" font-family="'Liberation Sans', sans-serif" font-size="15.3" font-weight="bold" fill="#000" text-anchor="start">ED/N</text>
<line x1="263.70" y1="75.65" x2="294.10" y2="75.65" stroke="#7030a0" stroke-width="2.3"/>
<text x="297.00" y="80.35" font-family="'Liberation Sans', sans-serif" font-size="15.3" font-weight="bold" fill="#000" text-anchor="start">ED/T</text>
<line x1="263.70" y1="90.50" x2="294.10" y2="90.50" stroke="#ff9999" stroke-width="2.3"/>
<text x="297.00" y="95.20" font-family="'Liberation Sans', sans-serif" font-size="15.3" font-weight="bold" fill="#000" text-anchor="start">ED/P</text>
<line x1="263.70" y1="105.35" x2="294.10" y2="105.35" stroke="#70ad47" stroke-width="2.3"/>
<text x="297.00" y="110.05" font-family="'Liberation Sans', sans-serif" font-size="15.3" font-weight="bold" fill="#000" text-anchor="start">ED/N+T</text>
<line x1="263.70" y1="120.20" x2="294.10" y2="120.20" stroke="#ed7d31" stroke-width="2.3"/>
<text x="297.00" y="124.90" font-family="'Liberation Sans', sans-serif" font-size="15.3" font-weight="bold" fill="#000" text-anchor="start">ED/P+T</text>
<text x="369.60" y="17.60" font-family="'Liberation Sans', sans-serif" font-size="25" font-weight="bold" fill="#000" text-anchor="start">b</text>
<path d="M465.30,33.80 H486.40 V40.40 H489.30 V47.90 H493.80 V59.30 H509.50 V68.00 H528.00 V68.00 H562.10 V118.80 H597.10 V133.70 H640.00 V196.00 H597.10 V190.00 H562.10 V178.00 H528.00 V165.00 H509.50 V155.00 H493.80 V145.00 H489.30 V138.00 H486.40 V130.00 H465.30 Z" fill="#3d8ee8" fill-opacity="0.075" stroke="none"/>
<path d="M463.70,33.00 H466.70 V63.80 H471.80 V78.40 H479.80 V94.30 H484.20 V94.30 H528.50 V111.80 H544.80 V131.00 H562.00 V131.00 H597.00 V131.00 H640.00 V197.60 H597.00 V196.40 H562.00 V192.90 H544.80 V192.90 H528.50 V184.70 H484.20 V179.60 H479.80 V174.50 H471.80 V162.80 H466.70 V150.00 H463.70 Z" fill="#6f7eb3" fill-opacity="0.12" stroke="none"/>
<rect x="430.5" y="180.5" width="51.5" height="18.5" fill="none" stroke="#f6f6f6" stroke-width="1"/>
<text x="442.50" y="189.00" font-family="'Liberation Sans', sans-serif" font-size="7.4" font-weight="normal" fill="#f6f6f6" text-anchor="start" textLength="29.80" lengthAdjust="spacingAndGlyphs">+ Censored</text>
<text x="433.00" y="197.20" font-family="'Liberation Sans', sans-serif" font-size="7.4" font-weight="normal" fill="#f6f6f6" text-anchor="start" textLength="47.50" lengthAdjust="spacingAndGlyphs">Wilcoxon p &lt; .0001</text>
<rect x="428.50" y="27.00" width="255.50" height="175.80" fill="none" stroke="#bcbcbc" stroke-width="1.3"/>
<line x1="424.90" y1="198.80" x2="428.50" y2="198.80" stroke="#a7a7a7" stroke-width="1.2"/>
<text x="417.60" y="205.30" font-family="'Liberation Sans', sans-serif" font-size="15.5" font-weight="bold" fill="#000" text-anchor="end" transform="translate(0 205.30) scale(1 1.09) translate(0 -205.30)">0.0</text>
<line x1="424.90" y1="165.24" x2="428.50" y2="165.24" stroke="#a7a7a7" stroke-width="1.2"/>
<text x="417.60" y="171.74" font-family="'Liberation Sans', sans-serif" font-size="15.5" font-weight="bold" fill="#000" text-anchor="end" transform="translate(0 171.74) scale(1 1.09) translate(0 -171.74)">0.2</text>
<line x1="424.90" y1="131.68" x2="428.50" y2="131.68" stroke="#a7a7a7" stroke-width="1.2"/>
<text x="417.60" y="138.18" font-family="'Liberation Sans', sans-serif" font-size="15.5" font-weight="bold" fill="#000" text-anchor="end" transform="translate(0 138.18) scale(1 1.09) translate(0 -138.18)">0.4</text>
<line x1="424.90" y1="98.12" x2="428.50" y2="98.12" stroke="#a7a7a7" stroke-width="1.2"/>
<text x="417.60" y="104.62" font-family="'Liberation Sans', sans-serif" font-size="15.5" font-weight="bold" fill="#000" text-anchor="end" transform="translate(0 104.62) scale(1 1.09) translate(0 -104.62)">0.6</text>
<line x1="424.90" y1="64.56" x2="428.50" y2="64.56" stroke="#a7a7a7" stroke-width="1.2"/>
<text x="417.60" y="71.06" font-family="'Liberation Sans', sans-serif" font-size="15.5" font-weight="bold" fill="#000" text-anchor="end" transform="translate(0 71.06) scale(1 1.09) translate(0 -71.06)">0.8</text>
<line x1="424.90" y1="31.00" x2="428.50" y2="31.00" stroke="#a7a7a7" stroke-width="1.2"/>
<text x="417.60" y="37.50" font-family="'Liberation Sans', sans-serif" font-size="15.5" font-weight="bold" fill="#000" text-anchor="end" transform="translate(0 37.50) scale(1 1.09) translate(0 -37.50)">1.0</text>
<line x1="441.40" y1="202.80" x2="441.40" y2="206.40" stroke="#a7a7a7" stroke-width="1.2"/>
<line x1="495.20" y1="202.80" x2="495.20" y2="206.40" stroke="#a7a7a7" stroke-width="1.2"/>
<line x1="549.00" y1="202.80" x2="549.00" y2="206.40" stroke="#a7a7a7" stroke-width="1.2"/>
<line x1="602.80" y1="202.80" x2="602.80" y2="206.40" stroke="#a7a7a7" stroke-width="1.2"/>
<line x1="656.60" y1="202.80" x2="656.60" y2="206.40" stroke="#a7a7a7" stroke-width="1.2"/>
<text x="441.00" y="221.40" font-family="'Liberation Sans', sans-serif" font-size="15.5" font-weight="bold" fill="#000" text-anchor="middle" transform="translate(0 221.40) scale(1 1.09) translate(0 -221.40)">0</text>
<text x="491.20" y="221.40" font-family="'Liberation Sans', sans-serif" font-size="15.5" font-weight="bold" fill="#000" text-anchor="middle" transform="translate(0 221.40) scale(1 1.09) translate(0 -221.40)">20</text>
<text x="546.00" y="221.40" font-family="'Liberation Sans', sans-serif" font-size="15.5" font-weight="bold" fill="#000" text-anchor="middle" transform="translate(0 221.40) scale(1 1.09) translate(0 -221.40)">40</text>
<text x="600.30" y="221.40" font-family="'Liberation Sans', sans-serif" font-size="15.5" font-weight="bold" fill="#000" text-anchor="middle" transform="translate(0 221.40) scale(1 1.09) translate(0 -221.40)">60</text>
<text x="654.90" y="221.40" font-family="'Liberation Sans', sans-serif" font-size="15.5" font-weight="bold" fill="#000" text-anchor="middle" transform="translate(0 221.40) scale(1 1.09) translate(0 -221.40)">80</text>
<line x1="441.40" y1="30.90" x2="680.80" y2="30.90" stroke="#9a9468" stroke-width="1.9"/>
<line x1="640.40" y1="28.30" x2="640.40" y2="33.50" stroke="#a8a27a" stroke-width="0.9"/>
<line x1="680.80" y1="28.30" x2="680.80" y2="33.50" stroke="#a8a27a" stroke-width="0.9"/>
<path d="M441.40,30.90 H463.70 V49.20 H464.80 V86.80 H466.10 V105.00 H471.80 V123.90 H480.30 V142.20 H528.90 V161.40 H545.10 V179.50 H640.00 V197.80" fill="none" stroke="#6470ad" stroke-width="1.05" stroke-linejoin="miter"/>
<path d="M441.40,30.90 H465.30 V47.20 H487.80 V64.20 H489.40 V81.20 H494.50 V98.00 H510.60 V114.70 H524.00 V131.40 H563.50 V164.90 H597.20 V181.10 H640.00" fill="none" stroke="#4a9ff0" stroke-width="1.05" stroke-linejoin="miter"/>
<circle cx="640" cy="181.1" r="1.4" fill="#4a9ff0"/>
<text x="556.60" y="49.40" font-family="'Liberation Sans', sans-serif" font-size="13.45" font-weight="bold" fill="#000" text-anchor="start">Wilcoxon P&lt;0.0001</text>
<text x="502.80" y="85.80" font-family="'Liberation Sans', sans-serif" font-size="15.35" font-weight="bold" fill="#1f8ff5" text-anchor="start">ED/Vehicle</text>
<text x="443.50" y="160.80" font-family="'Liberation Sans', sans-serif" font-size="15.35" font-weight="bold" fill="#3f4b68" text-anchor="start">E2/Vehicle</text>
<text x="389.20" y="111.40" font-family="'Liberation Sans', sans-serif" font-size="15.2" font-weight="bold" fill="#000" text-anchor="middle" transform="rotate(-90 389.20 111.40)">Survival probability</text>
<text x="462.50" y="241.00" font-family="'Liberation Sans', sans-serif" font-size="15.2" font-weight="bold" fill="#000" text-anchor="start" textLength="195.50" lengthAdjust="spacingAndGlyphs">Days to tumor progression</text>
<text x="-0.50" y="261.30" font-family="'Liberation Sans', sans-serif" font-size="25" font-weight="bold" fill="#000" text-anchor="start">c</text>
<path d="M113.80,281.40 H129.90 V287.80 H151.10 V333.60 H166.80 V344.90 H188.20 V357.20 H241.00 V371.10 H262.60 V402.40 H315.80 V451.60 H262.60 V442.10 H241.00 V436.10 H188.20 V428.10 H166.80 V419.20 H151.10 V364.10 H129.90 V355.30 H113.80 Z" fill="#6F7EB3" fill-opacity="0.33" stroke="none"/>
<path d="M113.80,293.50 H129.90 V344.90 H151.10 V402.40 H203.80 V451.40 H151.10 V428.10 H129.90 V376.20 H113.80 Z" fill="#D05B5B" fill-opacity="0.33" stroke="none"/>
<path d="M129.90,287.80 H151.10 V304.70 H166.80 V326.10 H188.20 V338.40 H203.80 V365.80 H225.40 V399.20 H262.60 V451.60 H225.40 V442.10 H203.80 V425.70 H188.20 V416.80 H166.80 V394.30 H151.10 V369.70 H129.90 Z" fill="#66A5A0" fill-opacity="0.33" stroke="none"/>
<rect x="264.5" y="280.5" width="52" height="10" fill="none" stroke="#f6f6f6" stroke-width="1"/>
<rect x="64.10" y="278.50" width="254.20" height="175.10" fill="none" stroke="#bcbcbc" stroke-width="1.3"/>
<line x1="60.50" y1="452.50" x2="64.10" y2="452.50" stroke="#a7a7a7" stroke-width="1.2"/>
<text x="56.00" y="459.20" font-family="'Liberation Sans', sans-serif" font-size="15.5" font-weight="bold" fill="#000" text-anchor="end" transform="translate(0 459.20) scale(1 1.09) translate(0 -459.20)">0.0</text>
<line x1="60.50" y1="418.18" x2="64.10" y2="418.18" stroke="#a7a7a7" stroke-width="1.2"/>
<text x="56.00" y="424.88" font-family="'Liberation Sans', sans-serif" font-size="15.5" font-weight="bold" fill="#000" text-anchor="end" transform="translate(0 424.88) scale(1 1.09) translate(0 -424.88)">0.2</text>
<line x1="60.50" y1="383.86" x2="64.10" y2="383.86" stroke="#a7a7a7" stroke-width="1.2"/>
<text x="56.00" y="390.56" font-family="'Liberation Sans', sans-serif" font-size="15.5" font-weight="bold" fill="#000" text-anchor="end" transform="translate(0 390.56) scale(1 1.09) translate(0 -390.56)">0.4</text>
<line x1="60.50" y1="349.54" x2="64.10" y2="349.54" stroke="#a7a7a7" stroke-width="1.2"/>
<text x="56.00" y="356.24" font-family="'Liberation Sans', sans-serif" font-size="15.5" font-weight="bold" fill="#000" text-anchor="end" transform="translate(0 356.24) scale(1 1.09) translate(0 -356.24)">0.6</text>
<line x1="60.50" y1="315.22" x2="64.10" y2="315.22" stroke="#a7a7a7" stroke-width="1.2"/>
<text x="56.00" y="321.92" font-family="'Liberation Sans', sans-serif" font-size="15.5" font-weight="bold" fill="#000" text-anchor="end" transform="translate(0 321.92) scale(1 1.09) translate(0 -321.92)">0.8</text>
<line x1="60.50" y1="280.90" x2="64.10" y2="280.90" stroke="#a7a7a7" stroke-width="1.2"/>
<text x="56.00" y="287.60" font-family="'Liberation Sans', sans-serif" font-size="15.5" font-weight="bold" fill="#000" text-anchor="end" transform="translate(0 287.60) scale(1 1.09) translate(0 -287.60)">1.0</text>
<line x1="76.80" y1="453.60" x2="76.80" y2="457.20" stroke="#a7a7a7" stroke-width="1.2"/>
<line x1="129.90" y1="453.60" x2="129.90" y2="457.20" stroke="#a7a7a7" stroke-width="1.2"/>
<line x1="183.00" y1="453.60" x2="183.00" y2="457.20" stroke="#a7a7a7" stroke-width="1.2"/>
<line x1="236.10" y1="453.60" x2="236.10" y2="457.20" stroke="#a7a7a7" stroke-width="1.2"/>
<line x1="289.20" y1="453.60" x2="289.20" y2="457.20" stroke="#a7a7a7" stroke-width="1.2"/>
<text x="77.30" y="472.50" font-family="'Liberation Sans', sans-serif" font-size="15.5" font-weight="bold" fill="#000" text-anchor="middle" transform="translate(0 472.50) scale(1 1.09) translate(0 -472.50)">0</text>
<text x="127.80" y="472.50" font-family="'Liberation Sans', sans-serif" font-size="15.5" font-weight="bold" fill="#000" text-anchor="middle" transform="translate(0 472.50) scale(1 1.09) translate(0 -472.50)">10</text>
<text x="182.20" y="472.50" font-family="'Liberation Sans', sans-serif" font-size="15.5" font-weight="bold" fill="#000" text-anchor="middle" transform="translate(0 472.50) scale(1 1.09) translate(0 -472.50)">20</text>
<text x="236.50" y="472.50" font-family="'Liberation Sans', sans-serif" font-size="15.5" font-weight="bold" fill="#000" text-anchor="middle" transform="translate(0 472.50) scale(1 1.09) translate(0 -472.50)">30</text>
<text x="290.80" y="472.50" font-family="'Liberation Sans', sans-serif" font-size="15.5" font-weight="bold" fill="#000" text-anchor="middle" transform="translate(0 472.50) scale(1 1.09) translate(0 -472.50)">40</text>
<path d="M76.80,280.90 H113.80 V320.40 H129.90 V386.30 H151.10 V439.30 H204.20 V451.40" fill="none" stroke="#b54e46" stroke-width="1.05" stroke-linejoin="miter"/>
<path d="M76.80,280.90 H113.80 V293.50 H129.90 V307.90 H151.10 V373.30 H166.80 V386.30 H188.20 V399.20 H241.00 V412.90 H262.60 V439.20 H315.80 V451.60" fill="none" stroke="#5465a8" stroke-width="1.05" stroke-linejoin="miter"/>
<path d="M76.80,280.90 H129.90 V309.20 H151.10 V337.60 H166.80 V366.40 H188.20 V380.70 H203.80 V409.40 H225.40 V438.30 H262.60 V451.60" fill="none" stroke="#217a70" stroke-width="1.05" stroke-linejoin="miter"/>
<text x="181.1" y="296.5" font-family="'Liberation Sans', sans-serif" font-size="13.6" font-weight="bold" fill="#000">Wilcoxon <tspan font-style="italic">P</tspan>=0.0026</text>
<text x="178.05" y="356.10" font-family="'Liberation Sans', sans-serif" font-size="15" font-weight="bold" fill="#007a33" text-anchor="start">T</text>
<text x="170.50" y="402.80" font-family="'Liberation Sans', sans-serif" font-size="15.5" font-weight="bold" fill="#0000c8" text-anchor="start">N</text>
<text x="101.20" y="406.40" font-family="'Liberation Sans', sans-serif" font-size="15.3" font-weight="bold" fill="#ff0000" text-anchor="start">N+T</text>
<text x="20.30" y="373.70" font-family="'Liberation Sans', sans-serif" font-size="15.2" font-weight="bold" fill="#000" text-anchor="middle" transform="rotate(-90 20.30 373.70)">Survival probability</text>
<text x="92.00" y="493.30" font-family="'Liberation Sans', sans-serif" font-size="15.2" font-weight="bold" fill="#000" text-anchor="start">Days to complete response</text>
<text x="369.80" y="261.40" font-family="'Liberation Sans', sans-serif" font-size="25" font-weight="bold" fill="#000" text-anchor="start">d</text>
<path d="M473.50,286.10 H501.20 V290.20 H520.40 V296.10 H540.10 V309.00 H569.80 V317.10 H578.00 V325.30 H589.40 V343.00 H597.60 V352.60 H628.10 V363.10 H639.00 V374.00 H647.10 V385.70 H677.10 V445.60 H647.10 V440.20 H639.00 V434.70 H628.10 V427.40 H597.60 V419.70 H589.40 V403.40 H578.00 V394.70 H569.80 V384.80 H540.10 V364.50 H520.40 V354.70 H501.20 V346.80 H473.50 Z" fill="#6F7EB3" fill-opacity="0.33" stroke="none"/>
<path d="M462.40,312.70 H473.50 V365.20 H482.30 V378.10 H501.20 V391.60 H512.10 V407.70 H539.80 V452.90 H512.10 V450.00 H501.20 V443.40 H482.30 V437.70 H473.50 V395.30 H462.40 Z" fill="#D05B5B" fill-opacity="0.33" stroke="none"/>
<path d="M462.40,292.30 H473.50 V308.60 H481.80 V329.10 H493.20 V341.30 H501.20 V369.30 H512.10 V401.80 H531.00 V452.90 H512.10 V443.40 H501.20 V427.40 H493.20 V418.60 H481.80 V396.70 H473.50 V372.00 H462.40 Z" fill="#66A5A0" fill-opacity="0.33" stroke="none"/>
<path d="M625.7,283.3 H678.3 V300.6" fill="none" stroke="#d2d2d2" stroke-width="1"/>
<rect x="422.30" y="281.30" width="258.30" height="176.40" fill="none" stroke="#bcbcbc" stroke-width="1.3"/>
<line x1="418.70" y1="453.20" x2="422.30" y2="453.20" stroke="#a7a7a7" stroke-width="1.2"/>
<text x="414.20" y="458.50" font-family="'Liberation Sans', sans-serif" font-size="15.5" font-weight="bold" fill="#000" text-anchor="end" transform="translate(0 458.50) scale(1 1.09) translate(0 -458.50)">0.0</text>
<line x1="418.70" y1="419.50" x2="422.30" y2="419.50" stroke="#a7a7a7" stroke-width="1.2"/>
<text x="414.20" y="424.80" font-family="'Liberation Sans', sans-serif" font-size="15.5" font-weight="bold" fill="#000" text-anchor="end" transform="translate(0 424.80) scale(1 1.09) translate(0 -424.80)">0.2</text>
<line x1="418.70" y1="385.80" x2="422.30" y2="385.80" stroke="#a7a7a7" stroke-width="1.2"/>
<text x="414.20" y="391.10" font-family="'Liberation Sans', sans-serif" font-size="15.5" font-weight="bold" fill="#000" text-anchor="end" transform="translate(0 391.10) scale(1 1.09) translate(0 -391.10)">0.4</text>
<line x1="418.70" y1="352.10" x2="422.30" y2="352.10" stroke="#a7a7a7" stroke-width="1.2"/>
<text x="414.20" y="357.40" font-family="'Liberation Sans', sans-serif" font-size="15.5" font-weight="bold" fill="#000" text-anchor="end" transform="translate(0 357.40) scale(1 1.09) translate(0 -357.40)">0.6</text>
<line x1="418.70" y1="318.40" x2="422.30" y2="318.40" stroke="#a7a7a7" stroke-width="1.2"/>
<text x="414.20" y="323.70" font-family="'Liberation Sans', sans-serif" font-size="15.5" font-weight="bold" fill="#000" text-anchor="end" transform="translate(0 323.70) scale(1 1.09) translate(0 -323.70)">0.8</text>
<line x1="418.70" y1="284.70" x2="422.30" y2="284.70" stroke="#a7a7a7" stroke-width="1.2"/>
<text x="414.20" y="290.00" font-family="'Liberation Sans', sans-serif" font-size="15.5" font-weight="bold" fill="#000" text-anchor="end" transform="translate(0 290.00) scale(1 1.09) translate(0 -290.00)">1.0</text>
<line x1="435.30" y1="457.70" x2="435.30" y2="461.30" stroke="#a7a7a7" stroke-width="1.2"/>
<line x1="490.30" y1="457.70" x2="490.30" y2="461.30" stroke="#a7a7a7" stroke-width="1.2"/>
<line x1="545.30" y1="457.70" x2="545.30" y2="461.30" stroke="#a7a7a7" stroke-width="1.2"/>
<line x1="600.30" y1="457.70" x2="600.30" y2="461.30" stroke="#a7a7a7" stroke-width="1.2"/>
<line x1="655.30" y1="457.70" x2="655.30" y2="461.30" stroke="#a7a7a7" stroke-width="1.2"/>
<text x="438.30" y="476.30" font-family="'Liberation Sans', sans-serif" font-size="15.5" font-weight="bold" fill="#000" text-anchor="middle" transform="translate(0 476.30) scale(1 1.09) translate(0 -476.30)">0</text>
<text x="488.60" y="476.30" font-family="'Liberation Sans', sans-serif" font-size="15.5" font-weight="bold" fill="#000" text-anchor="middle" transform="translate(0 476.30) scale(1 1.09) translate(0 -476.30)">20</text>
<text x="543.00" y="476.30" font-family="'Liberation Sans', sans-serif" font-size="15.5" font-weight="bold" fill="#000" text-anchor="middle" transform="translate(0 476.30) scale(1 1.09) translate(0 -476.30)">40</text>
<text x="597.50" y="476.30" font-family="'Liberation Sans', sans-serif" font-size="15.5" font-weight="bold" fill="#000" text-anchor="middle" transform="translate(0 476.30) scale(1 1.09) translate(0 -476.30)">60</text>
<text x="651.70" y="476.30" font-family="'Liberation Sans', sans-serif" font-size="15.5" font-weight="bold" fill="#000" text-anchor="middle" transform="translate(0 476.30) scale(1 1.09) translate(0 -476.30)">80</text>
<path d="M435.30,284.60 H473.50 V295.20 H501.20 V305.40 H520.40 V316.30 H540.10 V337.30 H569.80 V348.40 H578.00 V358.50 H589.40 V379.40 H597.60 V390.30 H628.10 V401.20 H639.00 V411.30 H647.10 V421.90 H677.10" fill="none" stroke="#5465a8" stroke-width="1.05" stroke-linejoin="miter"/>
<line x1="677.10" y1="419.50" x2="677.10" y2="424.30" stroke="#5465a8" stroke-width="1.0"/>
<path d="M435.30,284.60 H462.40 V345.50 H473.50 V405.30 H482.50 V417.40 H501.20 V429.50 H512.10 V441.00 H539.80 V453.40" fill="none" stroke="#b54e46" stroke-width="1.05" stroke-linejoin="miter"/>
<path d="M435.30,284.60 H462.40 V312.70 H473.50 V341.20 H482.30 V369.40 H493.20 V383.30 H501.20 V411.50 H512.10 V440.20 H531.20 V453.40" fill="none" stroke="#217a70" stroke-width="1.05" stroke-linejoin="miter"/>
<text x="553.6" y="299.8" font-family="'Liberation Sans', sans-serif" font-size="13.47" font-weight="bold" fill="#000">Wilcoxon <tspan font-style="italic">P</tspan>&lt;0.0001</text>
<text x="609.90" y="369.90" font-family="'Liberation Sans', sans-serif" font-size="16.8" font-weight="bold" fill="#0000c8" text-anchor="start">P</text>
<text x="503.30" y="383.30" font-family="'Liberation Sans', sans-serif" font-size="15.8" font-weight="bold" fill="#007a33" text-anchor="start">T</text>
<text x="445.90" y="437.20" font-family="'Liberation Sans', sans-serif" font-size="16.3" font-weight="bold" fill="#ff0000" text-anchor="start">P+T</text>
<text x="381.00" y="369.20" font-family="'Liberation Sans', sans-serif" font-size="15.2" font-weight="bold" fill="#000" text-anchor="middle" transform="rotate(-90 381.00 369.20)">Survival probability</text>
<text x="456.20" y="495.50" font-family="'Liberation Sans', sans-serif" font-size="15.2" font-weight="bold" fill="#000" text-anchor="start" textLength="197.00" lengthAdjust="spacingAndGlyphs">Days to complete response</text>
<text x="-1.00" y="505.00" font-family="'Liberation Sans', sans-serif" font-size="25" font-weight="bold" fill="#000" text-anchor="start">e</text>
<path d="M109.30,517.60 H111.90 V523.90 H122.70 V530.70 H125.20 V539.80 H130.30 V547.80 H131.50 V555.40 H134.00 V569.80 H141.10 V595.00 H142.90 V595.00 H146.20 V607.70 H166.90 V621.90 H185.80 V639.40 H197.90 V689.00 H185.80 V687.50 H166.90 V678.80 H146.20 V672.30 H142.90 V665.70 H141.10 V655.80 H134.00 V646.20 H131.50 V636.10 H130.30 V624.80 H125.20 V612.20 H122.70 V599.60 H111.90 V591.20 H109.30 Z" fill="#6F7EB3" fill-opacity="0.45" stroke="none"/>
<path d="M146.00,518.00 H156.20 V523.40 H168.40 V530.70 H178.60 V537.40 H206.20 V545.50 H220.50 V555.00 H229.10 V564.40 H243.40 V574.70 H246.70 V587.40 H267.50 V599.50 H275.80 V612.50 H282.60 V626.50 H310.10 V641.40 H317.70 V689.00 H310.10 V688.50 H282.60 V680.50 H275.80 V672.40 H267.50 V666.50 H246.70 V658.90 H243.40 V649.50 H229.10 V639.50 H220.50 V629.80 H206.20 V618.40 H178.60 V607.60 H168.40 V595.50 H156.20 V586.00 H146.00 Z" fill="#D05B5B" fill-opacity="0.45" stroke="none"/>
<rect x="63.60" y="514.10" width="256.90" height="176.40" fill="none" stroke="#bcbcbc" stroke-width="1.3"/>
<line x1="60.00" y1="689.30" x2="63.60" y2="689.30" stroke="#a7a7a7" stroke-width="1.2"/>
<text x="54.90" y="696.40" font-family="'Liberation Sans', sans-serif" font-size="15.5" font-weight="bold" fill="#000" text-anchor="end" transform="translate(0 696.40) scale(1 1.09) translate(0 -696.40)">0.0</text>
<line x1="60.00" y1="654.70" x2="63.60" y2="654.70" stroke="#a7a7a7" stroke-width="1.2"/>
<text x="54.90" y="661.80" font-family="'Liberation Sans', sans-serif" font-size="15.5" font-weight="bold" fill="#000" text-anchor="end" transform="translate(0 661.80) scale(1 1.09) translate(0 -661.80)">0.2</text>
<line x1="60.00" y1="620.10" x2="63.60" y2="620.10" stroke="#a7a7a7" stroke-width="1.2"/>
<text x="54.90" y="627.20" font-family="'Liberation Sans', sans-serif" font-size="15.5" font-weight="bold" fill="#000" text-anchor="end" transform="translate(0 627.20) scale(1 1.09) translate(0 -627.20)">0.4</text>
<line x1="60.00" y1="585.50" x2="63.60" y2="585.50" stroke="#a7a7a7" stroke-width="1.2"/>
<text x="54.90" y="592.60" font-family="'Liberation Sans', sans-serif" font-size="15.5" font-weight="bold" fill="#000" text-anchor="end" transform="translate(0 592.60) scale(1 1.09) translate(0 -592.60)">0.6</text>
<line x1="60.00" y1="550.90" x2="63.60" y2="550.90" stroke="#a7a7a7" stroke-width="1.2"/>
<text x="54.90" y="558.00" font-family="'Liberation Sans', sans-serif" font-size="15.5" font-weight="bold" fill="#000" text-anchor="end" transform="translate(0 558.00) scale(1 1.09) translate(0 -558.00)">0.8</text>
<line x1="60.00" y1="516.30" x2="63.60" y2="516.30" stroke="#a7a7a7" stroke-width="1.2"/>
<text x="54.90" y="523.40" font-family="'Liberation Sans', sans-serif" font-size="15.5" font-weight="bold" fill="#000" text-anchor="end" transform="translate(0 523.40) scale(1 1.09) translate(0 -523.40)">1.0</text>
<line x1="75.60" y1="690.50" x2="75.60" y2="694.10" stroke="#a7a7a7" stroke-width="1.2"/>
<line x1="148.20" y1="690.50" x2="148.20" y2="694.10" stroke="#a7a7a7" stroke-width="1.2"/>
<line x1="220.80" y1="690.50" x2="220.80" y2="694.10" stroke="#a7a7a7" stroke-width="1.2"/>
<line x1="293.40" y1="690.50" x2="293.40" y2="694.10" stroke="#a7a7a7" stroke-width="1.2"/>
<text x="76.00" y="708.20" font-family="'Liberation Sans', sans-serif" font-size="15.5" font-weight="bold" fill="#000" text-anchor="middle" transform="translate(0 708.20) scale(1 1.09) translate(0 -708.20)">0</text>
<text x="147.30" y="708.20" font-family="'Liberation Sans', sans-serif" font-size="15.5" font-weight="bold" fill="#000" text-anchor="middle" transform="translate(0 708.20) scale(1 1.09) translate(0 -708.20)">2</text>
<text x="218.20" y="708.20" font-family="'Liberation Sans', sans-serif" font-size="15.5" font-weight="bold" fill="#000" text-anchor="middle" transform="translate(0 708.20) scale(1 1.09) translate(0 -708.20)">4</text>
<text x="293.50" y="708.20" font-family="'Liberation Sans', sans-serif" font-size="15.5" font-weight="bold" fill="#000" text-anchor="middle" transform="translate(0 708.20) scale(1 1.09) translate(0 -708.20)">6</text>
<path d="M75.60,516.30 H109.30 V529.70 H111.90 V542.80 H122.70 V556.70 H125.20 V569.80 H130.30 V583.20 H131.50 V596.50 H134.20 V609.60 H141.10 V623.00 H143.30 V636.10 H146.40 V649.30 H166.80 V662.60 H185.90 V676.30 H197.80 V689.10" fill="none" stroke="#5465a8" stroke-width="1.05" stroke-linejoin="miter"/>
<path d="M75.60,516.30 H146.00 V528.80 H156.20 V540.90 H168.40 V553.60 H178.60 V565.80 H206.20 V577.90 H220.50 V590.60 H229.10 V602.80 H243.40 V615.20 H246.70 V627.90 H267.50 V640.00 H275.80 V652.20 H282.60 V664.90 H310.10 V677.00 H317.70 V688.60" fill="none" stroke="#b54e46" stroke-width="1.05" stroke-linejoin="miter"/>
<text x="196.90" y="529.20" font-family="'Liberation Sans', sans-serif" font-size="13.47" font-weight="bold" fill="#000" text-anchor="start">Wilcoxon P&lt;0.0001</text>
<text x="152.70" y="636.90" font-family="'Liberation Sans', sans-serif" font-size="16.3" font-weight="bold" fill="#0000c8" text-anchor="start">N+T</text>
<text x="253.80" y="606.60" font-family="'Liberation Sans', sans-serif" font-size="16" font-weight="bold" fill="#ff0000" text-anchor="start">P+T</text>
<text x="19.30" y="599.00" font-family="'Liberation Sans', sans-serif" font-size="15.2" font-weight="bold" fill="#000" text-anchor="middle" transform="rotate(-90 19.30 599.00)" textLength="145.50" lengthAdjust="spacingAndGlyphs">Survival probability</text>
<text x="97.50" y="727.50" font-family="'Liberation Sans', sans-serif" font-size="15.2" font-weight="bold" fill="#000" text-anchor="start" textLength="181.80" lengthAdjust="spacingAndGlyphs">Days to tumor regression</text>
<text x="369.70" y="504.70" font-family="'Liberation Sans', sans-serif" font-size="25" font-weight="bold" fill="#000" text-anchor="start">f</text>
<path d="M477.00,534.40 H495.00 V583.50 H518.80 V642.80 H579.10 V692.50 H518.80 V668.70 H495.00 V616.80 H477.00 Z" fill="#6F7EB3" fill-opacity="0.45" stroke="none"/>
<path d="M495.00,548.80 H518.80 V602.30 H537.10 V615.70 H579.10 V630.00 H603.20 V645.30 H663.60 V692.50 H603.20 V688.60 H579.10 V684.00 H537.10 V683.10 H518.80 V633.60 H495.00 Z" fill="#D05B5B" fill-opacity="0.45" stroke="none"/>
<path d="M622.7,519 H676.8" fill="none" stroke="#eeeeee" stroke-width="1"/>
<rect x="421.80" y="517.30" width="256.80" height="176.70" fill="none" stroke="#bcbcbc" stroke-width="1.3"/>
<line x1="418.20" y1="693.20" x2="421.80" y2="693.20" stroke="#a7a7a7" stroke-width="1.2"/>
<text x="413.90" y="699.80" font-family="'Liberation Sans', sans-serif" font-size="15.5" font-weight="bold" fill="#000" text-anchor="end" transform="translate(0 699.80) scale(1 1.09) translate(0 -699.80)">0.0</text>
<line x1="418.20" y1="658.60" x2="421.80" y2="658.60" stroke="#a7a7a7" stroke-width="1.2"/>
<text x="413.90" y="665.20" font-family="'Liberation Sans', sans-serif" font-size="15.5" font-weight="bold" fill="#000" text-anchor="end" transform="translate(0 665.20) scale(1 1.09) translate(0 -665.20)">0.2</text>
<line x1="418.20" y1="624.00" x2="421.80" y2="624.00" stroke="#a7a7a7" stroke-width="1.2"/>
<text x="413.90" y="630.60" font-family="'Liberation Sans', sans-serif" font-size="15.5" font-weight="bold" fill="#000" text-anchor="end" transform="translate(0 630.60) scale(1 1.09) translate(0 -630.60)">0.4</text>
<line x1="418.20" y1="589.40" x2="421.80" y2="589.40" stroke="#a7a7a7" stroke-width="1.2"/>
<text x="413.90" y="596.00" font-family="'Liberation Sans', sans-serif" font-size="15.5" font-weight="bold" fill="#000" text-anchor="end" transform="translate(0 596.00) scale(1 1.09) translate(0 -596.00)">0.6</text>
<line x1="418.20" y1="554.80" x2="421.80" y2="554.80" stroke="#a7a7a7" stroke-width="1.2"/>
<text x="413.90" y="561.40" font-family="'Liberation Sans', sans-serif" font-size="15.5" font-weight="bold" fill="#000" text-anchor="end" transform="translate(0 561.40) scale(1 1.09) translate(0 -561.40)">0.8</text>
<line x1="418.20" y1="520.20" x2="421.80" y2="520.20" stroke="#a7a7a7" stroke-width="1.2"/>
<text x="413.90" y="526.80" font-family="'Liberation Sans', sans-serif" font-size="15.5" font-weight="bold" fill="#000" text-anchor="end" transform="translate(0 526.80) scale(1 1.09) translate(0 -526.80)">1.0</text>
<line x1="434.80" y1="694.00" x2="434.80" y2="697.60" stroke="#a7a7a7" stroke-width="1.2"/>
<line x1="495.10" y1="694.00" x2="495.10" y2="697.60" stroke="#a7a7a7" stroke-width="1.2"/>
<line x1="555.40" y1="694.00" x2="555.40" y2="697.60" stroke="#a7a7a7" stroke-width="1.2"/>
<line x1="615.70" y1="694.00" x2="615.70" y2="697.60" stroke="#a7a7a7" stroke-width="1.2"/>
<line x1="676.00" y1="694.00" x2="676.00" y2="697.60" stroke="#a7a7a7" stroke-width="1.2"/>
<text x="429.90" y="712.80" font-family="'Liberation Sans', sans-serif" font-size="15.5" font-weight="bold" fill="#000" text-anchor="middle" transform="translate(0 712.80) scale(1 1.09) translate(0 -712.80)">0</text>
<text x="488.80" y="712.80" font-family="'Liberation Sans', sans-serif" font-size="15.5" font-weight="bold" fill="#000" text-anchor="middle" transform="translate(0 712.80) scale(1 1.09) translate(0 -712.80)">10</text>
<text x="551.20" y="712.80" font-family="'Liberation Sans', sans-serif" font-size="15.5" font-weight="bold" fill="#000" text-anchor="middle" transform="translate(0 712.80) scale(1 1.09) translate(0 -712.80)">20</text>
<text x="614.10" y="712.80" font-family="'Liberation Sans', sans-serif" font-size="15.5" font-weight="bold" fill="#000" text-anchor="middle" transform="translate(0 712.80) scale(1 1.09) translate(0 -712.80)">30</text>
<text x="676.60" y="712.80" font-family="'Liberation Sans', sans-serif" font-size="15.5" font-weight="bold" fill="#000" text-anchor="middle" transform="translate(0 712.80) scale(1 1.09) translate(0 -712.80)">40</text>
<path d="M434.80,520.20 H477.00 V559.50 H495.00 V626.60 H518.80 V679.40 H579.10 V692.50" fill="none" stroke="#5465a8" stroke-width="1.05" stroke-linejoin="miter"/>
<path d="M434.80,520.20 H495.00 V581.80 H518.80 V643.40 H537.10 V655.90 H579.10 V668.10 H603.20 V680.30 H663.60 V692.50" fill="none" stroke="#b54e46" stroke-width="1.05" stroke-linejoin="miter"/>
<text x="552.20" y="534.80" font-family="'Liberation Sans', sans-serif" font-size="13.56" font-weight="bold" fill="#000" text-anchor="start">Wilcoxon P=0.0577</text>
<text x="479.20" y="666.10" font-family="'Liberation Sans', sans-serif" font-size="16.1" font-weight="bold" fill="#0000c8" text-anchor="start">N+T</text>
<text x="615.50" y="668.50" font-family="'Liberation Sans', sans-serif" font-size="16" font-weight="bold" fill="#ff0000" text-anchor="start">P+T</text>
<text x="381.00" y="600.00" font-family="'Liberation Sans', sans-serif" font-size="15.2" font-weight="bold" fill="#000" text-anchor="middle" transform="rotate(-90 381.00 600.00)">Survival probability</text>
<text x="469.10" y="729.40" font-family="'Liberation Sans', sans-serif" font-size="15.2" font-weight="bold" fill="#000" text-anchor="start" textLength="196.00" lengthAdjust="spacingAndGlyphs">Days to complete response</text>
</svg></body></html>
